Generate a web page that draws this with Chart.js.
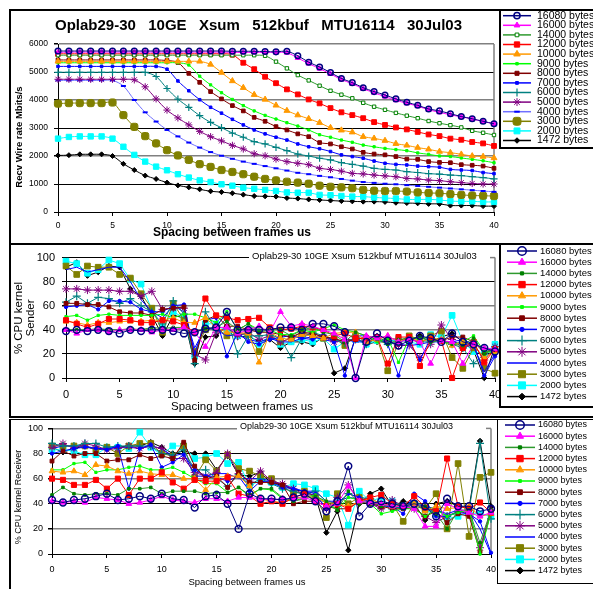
<!DOCTYPE html>
<html>
<head>
<meta charset="utf-8">
<script src="https://cdn.jsdelivr.net/npm/chart.js@4.4.0/dist/chart.umd.min.js"></script>
<style>
  body { margin: 0; background: #fff; width: 593px; height: 589px; overflow: hidden; position: relative; }
  canvas { position: absolute; left: 0; }
  .ln { position: absolute; border: 0 solid #000; box-sizing: border-box; }
</style>
</head>
<body>
<canvas id="wire" width="593" height="244" style="top:0px"></canvas>
<canvas id="sender" width="593" height="174" style="top:244px"></canvas>
<canvas id="recv" width="593" height="171" style="top:418px"></canvas>

<div class="ln" style="left:9px;top:9px;width:600px;height:236px;border-width:2px 0 2px 2px"></div>
<div class="ln" style="left:499px;top:9px;width:110px;height:140px;border-width:0 0 2px 2px"></div>
<div class="ln" style="left:9px;top:243px;width:600px;height:175px;border-width:0 0 2px 2px"></div>
<div class="ln" style="left:499px;top:243px;width:110px;height:165px;border-width:0 0 2px 2px"></div>
<div class="ln" style="left:9px;top:419px;width:600px;height:200px;border-width:1.5px 0 0 2px"></div>
<div class="ln" style="left:497px;top:419px;width:110px;height:165px;border-width:0 0 1.5px 1.5px"></div>

<script>
const FONT = '"Liberation Sans", Arial, sans-serif';
const chartTitle = "Oplab29-30 10GE Xsum 512kbuf MTU16114 30Jul03";

// spacing between frames (us)
const spacing = [0,1,2,3,4,5,6,7,8,9,10,11,12,13,14,15,16,17,18,19,20,
                 21,22,23,24,25,26,27,28,29,30,31,32,33,34,35,36,37,38,39,40];

const names = ["16080 bytes","16000 bytes","14000 bytes","12000 bytes","10000 bytes","9000 bytes",
               "8000 bytes","7000 bytes","6000 bytes","5000 bytes","4000 bytes","3000 bytes",
               "2000 bytes","1472 bytes"];

// Recv wire rate Mbits/s
const w16080 = [5750,5750,5750,5750,5750,5750,5750,5750,5750,5750, 5750,5750,5750,5750,5750,5750,5740,5740,5740,5730, 5720,5740,5580,5350,5180,4980,4770,4620,4440,4300, 4180,4040,3920,3810,3680,3610,3510,3410,3330,3240, 3150];
const w16000 = [5700,5710,5710,5710,5710,5710,5710,5710,5710,5710, 5710,5710,5710,5710,5710,5710,5700,5700,5700,5700, 5700,5690,5500,5300,5120,4930,4730,4580,4400,4260, 4120,3990,3880,3780,3650,3560,3470,3400,3320,3230, 3150];
const w14000 = [5600,5600,5600,5600,5600,5600,5600,5600,5600,5600, 5600,5600,5600,5600,5600,5600,5600,5600,5600,5580, 5370,5130,4890,4700,4510,4330,4190,4060,3900,3760, 3650,3540,3440,3350,3250,3170,3100,3020,2900,2830, 2750];
const w12000 = [5650,5650,5650,5650,5650,5650,5650,5650,5650,5650, 5650,5650,5650,5650,5650,5650,5620,5330,5100,4830, 4600,4380,4200,4020,3880,3710,3560,3460,3350,3210, 3110,3020,2950,2860,2770,2710,2620,2580,2500,2450, 2360];
const w10000 = [5380,5380,5380,5380,5380,5380,5380,5380,5380,5380, 5380,5380,5380,5380,5270,4980,4680,4440,4190,4020, 3810,3620,3460,3330,3190,3010,2920,2850,2690,2630, 2550,2440,2380,2300,2240,2160,2120,2060,2000,1980, 1930];
const w9000  = [5330,5330,5330,5330,5330,5330,5330,5330,5330,5330, 5330,5330,5250,4850,4540,4260,4020,3800,3610,3450, 3320,3190,3070,2930,2760,2670,2570,2490,2390,2330, 2270,2230,2190,2110,2060,2000,1980,1930,1880,1830, 1760];
const w8000  = [5430,5430,5430,5430,5430,5430,5430,5430,5430,5430, 5410,5340,4950,4630,4300,4040,3800,3610,3380,3240, 3050,2930,2790,2690,2480,2430,2330,2250,2130,2070, 2040,1980,1890,1880,1800,1770,1760,1690,1670,1640, 1560];
const w7000  = [5200,5200,5200,5200,5200,5200,5200,5200,5200,5200, 5100,4680,4330,4010,3740,3530,3310,3110,2930,2790, 2670,2570,2430,2330,2260,2160,2040,1980,1920,1820, 1740,1700,1680,1640,1620,1600,1520,1500,1480,1410, 1370];
const w6000  = [4990,4990,4990,4990,4990,4990,4990,4990,4990,4840, 4410,4030,3740,3440,3200,3010,2820,2670,2510,2430, 2310,2190,2070,2000,1920,1860,1760,1700,1640,1560, 1520,1500,1440,1410,1370,1350,1320,1300,1260,1230, 1180];
const w5000  = [4740,4740,4740,4740,4740,4740,4740,4720,4470,4040, 3640,3360,3110,2880,2690,2540,2380,2250,2080,2010, 1890,1800,1740,1690,1560,1520,1460,1380,1360,1320, 1290,1260,1200,1180,1140,1120,1080,1050,1020,1000, 1000];
const w4000  = [4700,4700,4700,4700,4700,4700,4500,4000,3560,3230, 2930,2700,2480,2300,2140,2010,1900,1800,1720,1640, 1560,1480,1400,1350,1290,1240,1180,1120,1070,1040, 1010,990,960,930,900,870,840,810,780,750, 720];
const w3000  = [3870,3890,3890,3890,3890,3910,3460,3040,2710,2450, 2210,2020,1860,1710,1610,1500,1430,1350,1260,1180, 1130,1080,1050,1010,940,900,880,850,790,760, 750,750,730,700,680,670,640,610,590,580, 570];
const w2000  = [2620,2680,2700,2700,2700,2620,2330,2040,1800,1620, 1490,1350,1230,1130,1070,990,940,870,830,790, 750,700,690,690,610,600,570,550,550,520, 500,480,450,450,450,430,390,380,380,360, 360];
const w1472  = [2020,2030,2060,2060,2060,2000,1720,1500,1300,1180, 1050,950,880,810,740,710,670,620,570,560, 550,500,480,450,430,410,390,380,370,370, 360,330,320,310,290,290,230,230,230,210, 210];

// % CPU kernel, sender
const s16080 = [39,40,39,40,39,37,40,39,40,40, 39,37,38,41,42,55,40,40,40,40, 42,42,40,45,45,43,38,0,30,37, 31,27,31,35,33,30,37,30,28,25, 22];
const s16000 = [40,37,40,40,38,40,40,40,38,40, 40,42,38,26,42,42,37,40,43,38, 55,43,45,43,40,37,32,0,35,33, 35,30,32,30,12,31,30,12,28,25, 24];
const s14000 = [40,40,40,41,40,40,41,40,42,41, 42,42,38,41,42,47,40,45,38,40, 40,35,40,42,38,36,30,38,35,32, 28,32,33,34,30,31,28,27,33,20, 25];
const s12000 = [48,45,42,45,49,49,48,46,46,48, 47,44,38,66,52,50,48,49,50,42, 40,41,43,42,40,35,37,33,33,34, 12,34,34,10,32,31,0,25,30,13, 24];
const s10000 = [47,46,44,46,46,47,47,47,48,48, 50,46,46,50,42,38,38,37,13,38, 33,32,36,35,33,37,38,38,30,32, 35,30,34,30,33,32,27,30,27,17, 22];
const s9000  = [51,52,48,52,53,52,52,52,52,53, 50,53,53,50,46,55,40,45,40,40, 36,36,40,38,41,44,40,38,35,30, 33,13,33,32,35,30,28,30,35,22, 21];
const s8000  = [62,62,61,61,59,55,54,54,52,57, 58,59,15,48,52,43,43,40,38,38, 36,34,38,37,34,33,30,32,34,34, 33,32,32,30,33,31,34,34,30,21, 25];
const s7000  = [59,60,61,57,64,64,63,57,55,55, 60,61,20,48,50,18,38,30,28,32, 34,35,33,32,36,30,2,35,35,33, 28,2,30,15,33,30,30,32,28,2, 18];
const s6000  = [63,68,62,67,66,62,66,60,55,45, 64,53,12,55,40,50,20,35,35,36, 33,17,33,38,35,32,29,34,28,33, 28,30,32,30,30,32,28,25,12,20, 24];
const s5000  = [74,74,73,73,73,72,72,68,72,57, 58,58,20,15,38,42,35,38,32,35, 30,33,35,37,34,30,32,32,30,34, 30,27,27,17,28,44,32,25,28,15, 26];
const s4000  = [90,92,88,90,92,92,80,65,55,50, 60,55,25,42,40,35,36,32,30,33, 30,30,33,34,32,30,32,30,30,32, 30,28,27,28,30,30,30,28,27,5, 20];
const s3000  = [93,86,93,92,92,86,83,70,58,38, 62,48,22,40,42,35,37,36,22,36, 30,33,38,35,33,33,27,35,30,33, 6,30,35,32,35,39,17,8,25,8, 4];
const s2000  = [97,95,87,90,98,95,82,78,57,42, 55,50,18,45,45,38,35,37,28,35, 28,30,32,30,33,24,30,32,28,31, 30,32,30,28,36,34,52,30,22,20, 28];
const s1472  = [92,96,85,88,93,92,74,68,52,35, 52,50,12,34,35,43,34,35,30,32, 25,30,30,28,34,4,8,33,28,30, 30,32,30,35,30,34,37,30,23,0, 26];

// % CPU kernel, receiver
const r16080 = [43,41,43,44,46,48,43,44,46,44, 48,44,43,37,46,47,40,20,48,44, 44,43,45,48,42,34,42,70,30,40, 42,40,38,40,38,30,44,38,38,34, 36];
const r16000 = [42,41,42,41,45,44,43,40,41,43, 46,43,42,41,44,44,42,45,45,44, 43,44,44,45,42,38,40,54,42,41, 40,38,38,36,22,22,40,36,33,30, 33];
const r14000 = [47,53,48,47,48,48,47,52,52,53, 48,50,50,50,48,49,49,53,47,52, 52,45,42,44,46,42,35,50,40,42, 38,39,40,36,38,32,20,35,35,9, 35];
const r12000 = [60,59,55,55,59,52,60,47,60,60, 65,57,52,59,58,58,61,48,46,40, 42,40,45,48,42,38,40,36,42,45, 47,40,38,46,37,34,76,38,36,41, 33];
const r10000 = [66,65,66,63,71,70,66,64,66,64, 63,63,60,60,51,61,62,62,54,44, 42,41,44,46,45,41,40,38,42,44, 40,38,38,40,34,38,36,37,38,30, 32];
const r9000  = [67,67,72,73,65,67,67,69,70,67, 67,69,65,60,56,56,49,53,46,52, 51,44,42,45,47,40,35,45,43,40, 32,34,36,36,30,35,30,33,35,0, 33];
const r8000  = [74,82,78,80,80,74,75,75,79,76, 78,76,89,70,60,62,53,65,57,57, 57,55,40,42,42,38,36,36,42,40, 38,36,36,37,30,34,25,32,30,2, 33];
const r7000  = [80,82,84,85,84,83,86,52,84,87, 69,73,79,67,62,61,58,62,50,58, 57,53,52,50,48,36,40,48,45,40, 38,38,32,48,42,30,30,33,32,26, 1];
const r6000  = [88,86,86,88,88,85,86,86,86,86, 80,79,83,67,67,60,54,63,55,60, 56,52,50,47,50,42,40,48,45,44, 40,36,38,42,38,36,30,34,35,88, 28];
const r5000  = [85,88,84,88,86,83,84,86,84,86, 84,76,76,65,62,65,80,64,58,66, 58,56,52,47,47,36,45,55,42,40, 36,43,38,36,30,25,30,34,32,5, 35];
const r4000  = [84,86,86,86,84,84,85,85,84,86, 84,78,80,62,62,64,64,60,60,60, 58,55,52,50,50,42,42,45,44,42, 40,38,36,40,35,35,32,35,34,20, 0];
const r3000  = [86,86,86,86,83,85,80,86,88,88, 80,78,86,61,75,66,79,68,66,62, 60,54,48,50,45,29,48,40,45,42, 38,40,26,40,36,48,20,72,14,61, 65];
const r2000  = [83,83,82,79,79,85,85,84,97,85, 79,86,86,76,77,80,72,73,54,59, 57,53,56,55,52,48,45,23,50,42, 45,42,38,40,35,32,28,30,33,32, 30];
const r1472  = [85,81,84,86,83,84,85,86,86,89, 85,80,82,80,80,67,78,63,62,65, 56,55,51,50,46,17,34,3,40,48, 52,38,42,40,27,40,42,38,37,90, 38];

const wireSeries = [w16080,w16000,w14000,w12000,w10000,w9000,w8000,w7000,w6000,w5000,w4000,w3000,w2000,w1472];
const sendSeries = [s16080,s16000,s14000,s12000,s10000,s9000,s8000,s7000,s6000,s5000,s4000,s3000,s2000,s1472];
const recvSeries = [r16080,r16000,r14000,r12000,r10000,r9000,r8000,r7000,r6000,r5000,r4000,r3000,r2000,r1472];

// styles
const markColors = ['#000080','#ff00ff','#008000','#ff0000','#ff9900','#00ff00','#800000','#0000ff','#008080','#800080','#0000ff','#808000','#00ffff','#000000'];
const wireLines = markColors.map((c, i) => i === 10 ? '#6f6fff' : (i === 2 ? '#2e9a2e' : c));
const cpuLines = markColors.map((c, i) => i === 2 ? '#2e9a2e' : c);

// [style, radius, fill, border width]
const wireMarks = [
  ['circle', 2.8, 'rgba(255,255,255,0)', 1.5], ['triangle', 3, null, 1], ['rect', 2.4, '#ffffff', 1],
  ['rect', 3.4, null, 1], ['triangle', 3.4, null, 1], ['rect', 1.6, null, 1], ['rect', 2.6, null, 1],
  ['rect', 1.8, null, 1], ['cross', 3.6, null, 1.2], ['star', 3.6, null, 1], ['line', 2.5, null, 2],
  ['rectRounded', 4.2, null, 1], ['rect', 3.8, null, 1], ['rectRot', 2.5, null, 1]
];
const cpuMarks = [
  ['circle', 3.4, 'rgba(255,255,255,0)', 1.5], ['triangle', 3.3, null, 1], ['rect', 1.8, null, 1],
  ['rect', 3.6, null, 1], ['triangle', 3.3, null, 1], ['rect', 1.6, null, 1], ['rect', 2.7, null, 1],
  ['circle', 1.7, null, 1], ['cross', 4, null, 1.2], ['star', 4, null, 1], [false, 0, null, 1],
  ['rect', 4, null, 1], ['rect', 4, null, 1], ['rectRot', 2.7, null, 1]
];

function makeDatasets(series, marks, lines, tension) {
  return series.map((vals, i) => {
    const [style, r, fill, bw] = marks[i];
    return {
      label: names[i],
      data: vals,
      borderColor: lines[i],
      borderWidth: 1,
      tension: tension,
      clip: false,
      pointStyle: style || 'circle',
      pointRadius: style ? r : 0,
      pointHoverRadius: style ? r : 0,
      pointBackgroundColor: fill || markColors[i],
      pointBorderColor: markColors[i],
      pointBorderWidth: bw
    };
  });
}

function drawLegend(chart, L) {
  const ctx = chart.ctx;
  chart.data.datasets.forEach((ds, i) => {
    const y = L.y0 + i * L.dy;
    ctx.save();
    ctx.strokeStyle = ds.borderColor;
    ctx.lineWidth = 1.5;
    ctx.beginPath(); ctx.moveTo(L.x1, y); ctx.lineTo(L.x2, y); ctx.stroke();
    if (ds.pointRadius > 0) {
      ctx.fillStyle = ds.pointBackgroundColor;
      ctx.strokeStyle = ds.pointBorderColor;
      ctx.lineWidth = ds.pointBorderWidth;
      Chart.helpers.drawPoint(ctx, {
        pointStyle: ds.pointStyle, radius: ds.pointRadius * L.ps, rotation: 0, borderWidth: ds.pointBorderWidth
      }, (L.x1 + L.x2) / 2, y);
    }
    ctx.fillStyle = '#000';
    ctx.font = L.font + ' ' + FONT;
    ctx.textBaseline = 'middle';
    ctx.textAlign = 'left';
    ctx.fillText(ds.label, L.tx, y);
    ctx.restore();
  });
}

function drawText(ctx, t) {
  ctx.save();
  ctx.font = t.font + ' ' + FONT;
  ctx.fillStyle = '#000';
  ctx.textBaseline = 'middle';
  ctx.textAlign = t.align || 'center';
  ctx.translate(t.x, t.y);
  if (t.rot) ctx.rotate(-Math.PI / 2);
  if (t.fit) {
    // spread words like the original title
    const words = t.t.split(' ');
    const widths = words.map(w => ctx.measureText(w).width);
    const gap = (t.fit - widths.reduce((a, b) => a + b, 0)) / (words.length - 1);
    ctx.textAlign = 'left';
    let x = 0;
    words.forEach((w, i) => { ctx.fillText(w, x, 0); x += widths[i] + gap; });
  } else {
    ctx.fillText(t.t, 0, 0);
  }
  ctx.restore();
}

function decor(p) {
  return {
    id: 'decor',
    beforeDatasetsDraw(chart) {
      const ctx = chart.ctx, a = chart.chartArea;
      ctx.save();
      if (p.inTitle) {
        ctx.font = p.inTitle.font + ' ' + FONT;
        ctx.fillStyle = '#fff';
        ctx.fillRect(p.inTitle.x - 3, a.top - 6, a.right - p.inTitle.x + 3, 12);
        ctx.fillStyle = '#000';
        ctx.textBaseline = 'middle';
        ctx.fillText(chartTitle, p.inTitle.x, p.inTitle.y);
        ctx.strokeStyle = '#808080';
        ctx.lineWidth = 1.5;
        ctx.beginPath(); ctx.moveTo(a.right - 5, a.top); ctx.lineTo(a.right, a.top); ctx.stroke();
      }
      ctx.strokeStyle = '#808080';
      ctx.lineWidth = 1.5;
      ctx.beginPath(); ctx.moveTo(a.right, a.top); ctx.lineTo(a.right, a.bottom); ctx.stroke();
      ctx.restore();
    },
    afterDraw(chart) {
      p.texts.forEach(t => drawText(chart.ctx, t));
      drawLegend(chart, p.legend);
    }
  };
}

function makeChart(id, p) {
  const W = 593, H = p.height;
  return new Chart(document.getElementById(id), {
    type: 'line',
    data: { labels: spacing, datasets: p.datasets },
    options: {
      responsive: false,
      animation: false,
      events: [],
      layout: { padding: { left: 0, top: p.area.top, right: W - p.area.right, bottom: 0 } },
      plugins: { legend: { display: false }, tooltip: { enabled: false } },
      scales: {
        x: {
          type: 'linear', min: 0, max: 40,
          afterFit: s => { s.height = H - p.area.bottom; },
          ticks: { stepSize: 5, autoSkip: false, maxRotation: 0, color: '#000',
                   font: { family: FONT, size: p.tickSize }, padding: p.xPad },
          grid: { drawOnChartArea: false, drawTicks: true, tickLength: 4, tickColor: '#000' },
          border: { display: true, color: '#000', width: 1 }
        },
        y: {
          min: 0, max: p.yMax,
          afterFit: s => { s.width = p.area.left; },
          ticks: { stepSize: p.yStep, color: '#000', font: { family: FONT, size: p.tickSize },
                   padding: p.yPad, callback: v => String(v) },
          grid: {
            color: c => p.gridColors[c.tick.value] || 'rgba(0,0,0,0)',
            lineWidth: c => p.gridColors[c.tick.value] === '#808080' ? 1.5 : 1,
            tickColor: '#000', tickLength: 4
          },
          border: { display: true, color: '#000', width: 1 }
        }
      }
    },
    plugins: [decor(p)]
  });
}

makeChart('wire', {
  height: 244,
  area: { left: 58, right: 494, top: 44, bottom: 212 },
  yMax: 6000, yStep: 1000, tickSize: 8.5, xPad: 5, yPad: 6,
  gridColors: { 6000: '#808080', 5000: '#000', 4000: '#808080', 3000: '#000', 2000: '#808080', 1000: '#000' },
  datasets: makeDatasets(wireSeries, wireMarks, wireLines, 0.3),
  texts: [
    { t: chartTitle, x: 55, y: 26, font: 'bold 15px', align: 'left', fit: 407 },
    { t: 'Recv Wire rate Mbits/s', x: 19, y: 137, font: 'bold 9.5px', rot: true },
    { t: 'Spacing between frames us', x: 232, y: 233, font: 'bold 12px' }
  ],
  legend: { y0: 15.7, dy: 9.6, x1: 503, x2: 531, tx: 537, font: '10.5px', ps: 1.1 }
});

makeChart('sender', {
  height: 174,
  area: { left: 66, right: 495, top: 12, bottom: 134 },
  yMax: 100, yStep: 20, tickSize: 11, xPad: 6, yPad: 7,
  gridColors: { 100: '#000', 80: '#000', 60: '#808080', 40: '#808080', 20: '#000' },
  datasets: makeDatasets(sendSeries, cpuMarks, cpuLines, 0),
  inTitle: { x: 252, y: 12, font: '9.5px' },
  texts: [
    { t: '% CPU kernel', x: 19, y: 74, font: '11.5px', rot: true },
    { t: 'Sender', x: 31, y: 74, font: '11.5px', rot: true },
    { t: 'Spacing between frames us', x: 242, y: 163, font: '11.5px' }
  ],
  legend: { y0: 7, dy: 11.2, x1: 507, x2: 537, tx: 540, font: '9.5px', ps: 1.25 }
});

makeChart('recv', {
  height: 171,
  area: { left: 52, right: 491, top: 10, bottom: 136 },
  yMax: 100, yStep: 20, tickSize: 9, xPad: 6.5, yPad: 5,
  gridColors: { 100: '#808080', 80: '#000', 60: '#808080', 40: '#000', 20: '#808080' },
  datasets: makeDatasets(recvSeries, cpuMarks, cpuLines, 0),
  inTitle: { x: 240, y: 9, font: '9px' },
  texts: [
    { t: '% CPU kernel Receiver', x: 19, y: 79, font: '9px', rot: true },
    { t: 'Spacing between frames us', x: 247, y: 164, font: '9.5px' }
  ],
  legend: { y0: 7, dy: 11.2, x1: 505, x2: 535, tx: 538, font: '9px', ps: 1.25 }
});
</script>
</body>
</html>
